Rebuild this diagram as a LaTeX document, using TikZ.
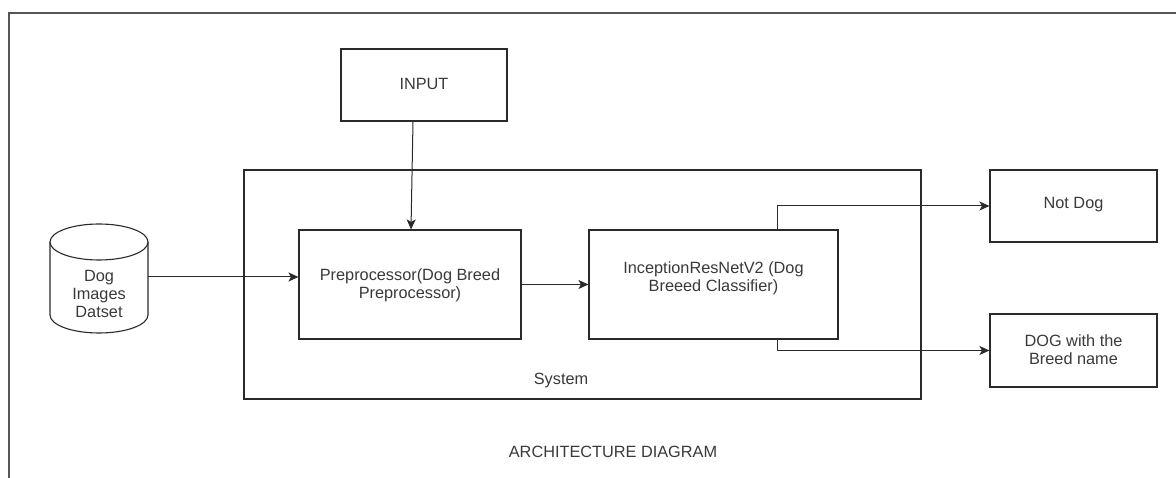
\documentclass[tikz,border=0pt]{standalone}
\usepackage{fontspec}
\setmainfont{Liberation Sans}
\usetikzlibrary{arrows.meta}
\definecolor{ln}{HTML}{2A2A2A}
\definecolor{tx}{HTML}{3A3A3A}
\definecolor{fr}{HTML}{555555}
\tikzset{
  box/.style={draw=ln, line width=1.1pt, rectangle, inner sep=0pt, fill=white},
  txt/.style={text=tx, font=\fontsize{16.3}{17.7}\selectfont, align=center, inner sep=0pt},
  arr/.style={draw=ln, line width=1pt, -{Stealth[length=10pt,width=9pt,inset=2.5pt]}},
}
\begin{document}
\begin{tikzpicture}[x=1pt,y=-1pt]
\useasboundingbox (0,0) rectangle (1176,478);
\fill[white] (0,0) rectangle (1176,478);
% outer frame (only top and left edges visible)
\draw[fr, line width=1.3pt] (9,478) -- (9,13) -- (1176,13);
% system container
\node[box, minimum width=677pt, minimum height=229pt] (sys) at (582.5,284.5) {};
\node[txt] (systxt) at (561,381) {System};
% input
\node[box, minimum width=166pt, minimum height=72pt] (input) at (424,85) {};
\node[txt] (inputtxt) at (424,84) {INPUT};
% preprocessor
\node[box, minimum width=222pt, minimum height=109pt] (pre) at (410,284.5) {};
\node[txt] (pretxt) at (410,285) {Preprocessor(Dog Breed\\Preprocessor)};
% classifier
\node[box, minimum width=249pt, minimum height=109pt] (cls) at (713.5,284.5) {};
\node[txt] (clstxt) at (713.5,278.5) {InceptionResNetV2 (Dog\\Breeed Classifier)};
% outputs
\node[box, minimum width=167pt, minimum height=72pt] (notdog) at (1073.5,206) {};
\node[txt] (notdogtxt) at (1073.5,205) {Not Dog};
\node[box, minimum width=167pt, minimum height=73pt] (dogb) at (1073.5,350.5) {};
\node[txt] (dogbtxt) at (1073.5,350) {DOG with the\\Breed name};
% database cylinder
\node[inner sep=0pt, minimum width=98pt, minimum height=109pt] (db) at (99,278.5) {};
\draw[ln, line width=1.1pt, fill=white] (50,242) -- (50,315) arc[start angle=180, end angle=0, x radius=49, y radius=18] -- (148,242);
\draw[ln, line width=1.1pt, fill=white] (99,242) ellipse[x radius=49, y radius=18];
\node[txt] (dbtxt) at (99,294) {Dog\\Images\\Datset};
% title
\node[txt] (title) at (613,452) {ARCHITECTURE DIAGRAM};
% connectors
\coordinate (s1) at ([yshift=1.5pt]db.east);
\draw[arr] (s1) -- (s1 -| pre.west);
\draw[arr] ([xshift=-11pt]input.south) -- ([xshift=1pt]pre.north);
\draw[arr] (pre.east) -- (cls.west);
\coordinate (c1) at ([xshift=63.5pt]cls.north);
\coordinate (c2) at ([xshift=63.5pt]cls.south);
\draw[arr] (c1) |- (notdog.west);
\draw[arr] (c2) |- (dogb.west);
\end{tikzpicture}
\end{document}
